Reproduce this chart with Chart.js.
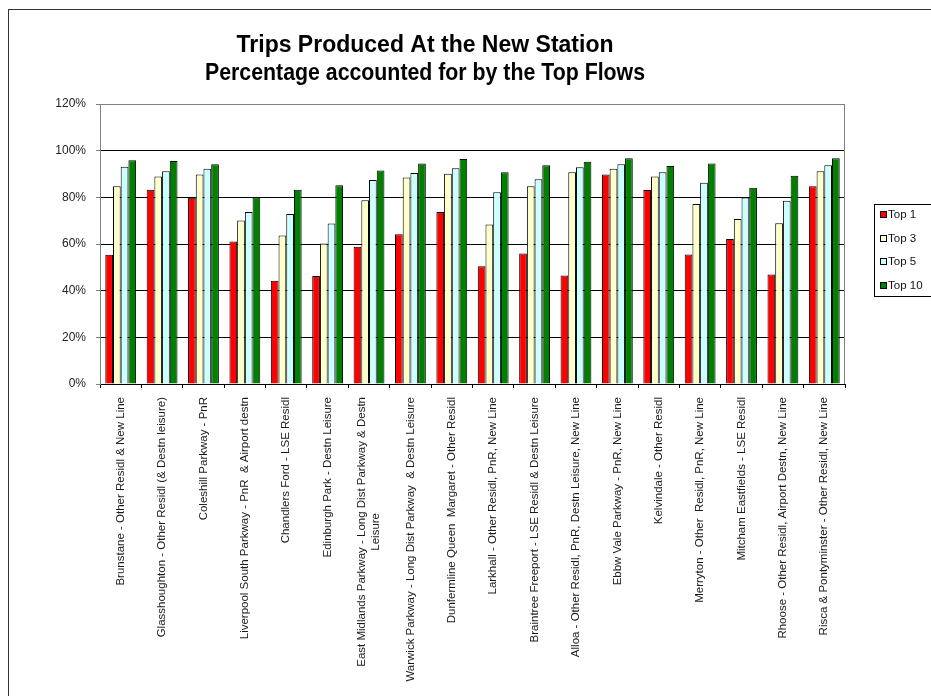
<!DOCTYPE html>
<html>
<head>
<meta charset="utf-8">
<title>Trips Produced At the New Station</title>
<script src="https://cdn.jsdelivr.net/npm/chart.js@4.4.1/dist/chart.umd.min.js"></script>
<style>
  html, body { margin: 0; padding: 0; background: #fff; overflow: hidden; }
  .chart-wrap { position: relative; width: 960px; height: 696px; }
</style>
</head>
<body>
<div class="chart-wrap"><canvas id="topFlowsChart" width="960" height="696"></canvas></div>
<script>
const stations = [
  "Brunstane - Other Residl & New Line",
  "Glasshoughton - Other Residl (& Destn leisure)",
  "Coleshill Parkway - PnR",
  "Liverpool South Parkway - PnR  & Airport destn",
  "Chandlers Ford - LSE Residl",
  "Edinburgh Park - Destn Leisure",
  ["East Midlands Parkway - Long Dist Parkway & Destn", "Leisure"],
  "Warwick Parkway - Long Dist Parkway  & Destn Leisure",
  "Dunfermline Queen  Margaret - Other Residl",
  "Larkhall - Other Residl, PnR, New Line",
  "Braintree Freeport - LSE Residl & Destn Leisure",
  "Alloa - Other Residl, PnR, Destn Leisure, New Line",
  "Ebbw Vale Parkway - PnR, New Line",
  "Kelvindale - Other Residl",
  "Merryton - Other  Residl, PnR, New Line",
  "Mitcham Eastfields - LSE Residl",
  "Rhoose - Other Residl, Airport Destn, New Line",
  "Risca & Pontyminster - Other Residl, New Line",
];

// share of trips (%) covered by the top N flows
const top1 = [55.4, 83.3, 79.8, 61.1, 44.2, 46.3, 58.8, 64.2, 73.7, 50.5, 55.9, 46.5, 89.8, 83.1, 55.5, 62.1, 46.9, 84.8];
const top3 = [84.8, 88.9, 89.8, 70.1, 63.6, 60.2, 78.8, 88.5, 90.1, 68.4, 84.8, 90.8, 92.2, 88.9, 77.1, 70.7, 68.9, 91.2];
const top5 = [93.1, 91.2, 92.2, 73.7, 72.9, 68.8, 87.4, 90.4, 92.5, 82.2, 87.8, 92.9, 94.2, 90.8, 86.3, 79.9, 78.5, 93.8];
const top10 = [95.9, 95.6, 94.2, 79.9, 83.3, 85.2, 91.5, 94.5, 96.4, 90.8, 93.8, 95.2, 96.8, 93.4, 94.5, 84.1, 89.3, 96.8];

const yTicks = [0, 20, 40, 60, 80, 100, 120];
const titleLines = ["Trips Produced At the New Station", "Percentage accounted for by the Top Flows"];

const FONT = "'Liberation Sans', Arial, sans-serif";

// frame, title, rotated category labels and the boxed legend
const extras = {
  id: "extras",
  afterDraw(chart) {
    const { ctx, chartArea } = chart;
    const xScale = chart.scales.x;
    ctx.save();

    // outer frame
    ctx.strokeStyle = "#333";
    ctx.lineWidth = 1;
    ctx.strokeRect(8.5, 9.5, 1000, 1000);

    // right edge of the plot area
    ctx.strokeStyle = "#808080";
    ctx.beginPath();
    ctx.moveTo(Math.round(chartArea.right) - 0.5, chartArea.top);
    ctx.lineTo(Math.round(chartArea.right) - 0.5, chartArea.bottom);
    ctx.stroke();

    // title, squeezed a little like the narrow heading font
    ctx.fillStyle = "#000";
    ctx.font = "bold 23px " + FONT;
    ctx.textAlign = "center";
    ctx.textBaseline = "middle";
    const titleWidths = [380, 440];
    titleLines.forEach((line, i) => ctx.fillText(line, 425, 46 + i * 28, titleWidths[i]));

    // category labels, reading upwards, ending just under the axis
    ctx.font = "11.5px " + FONT;
    ctx.fillStyle = "#1a1a1a";
    const top = chartArea.bottom + 13;
    chart.data.labels.forEach((label, i) => {
      const lines = Array.isArray(label) ? label : [label];
      const cx = xScale.getPixelForValue(i);
      ctx.save();
      ctx.translate(cx, top);
      ctx.rotate(-Math.PI / 2);
      const w1 = ctx.measureText(lines[0]).width;
      const off = (lines.length - 1) * 7;
      lines.forEach((line, j) => {
        const y = j * 14 - off;
        if (j === 0) {
          ctx.textAlign = "right";
          ctx.fillText(line, 0, y);
        } else {
          ctx.textAlign = "center";
          ctx.fillText(line, -w1 / 2, y);
        }
      });
      ctx.restore();
    });

    // legend
    const lx = 874.5, ly = 204.5;
    ctx.fillStyle = "#fff";
    ctx.fillRect(lx, ly, 80, 92);
    ctx.strokeStyle = "#000";
    ctx.strokeRect(lx, ly, 80, 92);
    ctx.textAlign = "left";
    ctx.textBaseline = "middle";
    chart.data.datasets.forEach((ds, i) => {
      const y = 215 + i * 23.5;
      ctx.fillStyle = ds.backgroundColor;
      ctx.fillRect(880.5, Math.round(y) - 3.5, 6, 6);
      ctx.strokeStyle = "#000";
      ctx.strokeRect(880.5, Math.round(y) - 3.5, 6, 6);
      ctx.fillStyle = "#111";
      ctx.font = "11.5px " + FONT;
      ctx.fillText(ds.label, 888, y);
    });

    ctx.restore();
  },
};

const ctxBar = document.getElementById("topFlowsChart");

new Chart(ctxBar, {
  type: "bar",
  data: {
    labels: stations,
    datasets: [
      { label: "Top 1", data: top1, backgroundColor: "#ff0000" },
      { label: "Top 3", data: top3, backgroundColor: "#ffffcc" },
      { label: "Top 5", data: top5, backgroundColor: "#ccffff" },
      { label: "Top 10", data: top10, backgroundColor: "#008000" },
    ],
  },
  options: {
    responsive: false,
    animation: false,
    devicePixelRatio: 1,
    datasets: {
      bar: {
        borderColor: "#000",
        borderWidth: 1,
        barPercentage: 1,
        categoryPercentage: 0.745,
      },
    },
    layout: {
      padding: { left: 50, right: 115, top: 104, bottom: 308 },
    },
    plugins: {
      legend: { display: false },
      title: { display: false },
      tooltip: { enabled: false },
    },
    scales: {
      x: {
        ticks: { display: false },
        grid: {
          offset: true,
          drawOnChartArea: false,
          tickLength: 4,
          color: "#000",
        },
        border: { color: "#000" },
      },
      y: {
        min: 0,
        max: 120,
        afterFit: (scale) => { scale.width = 50; },
        afterBuildTicks: (scale) => {
          scale.ticks = yTicks.map((v) => ({ value: v }));
        },
        ticks: {
          color: "#222",
          padding: 10,
          font: { family: FONT, size: 12 },
          callback: (v) => v + "%",
        },
        grid: {
          tickLength: 4,
          tickColor: "#808080",
          color: (c) => (c.tick && c.tick.value === 120 ? "#808080" : "#000"),
        },
        border: { color: "#808080" },
      },
    },
  },
  plugins: [extras],
});
</script>
</body>
</html>
